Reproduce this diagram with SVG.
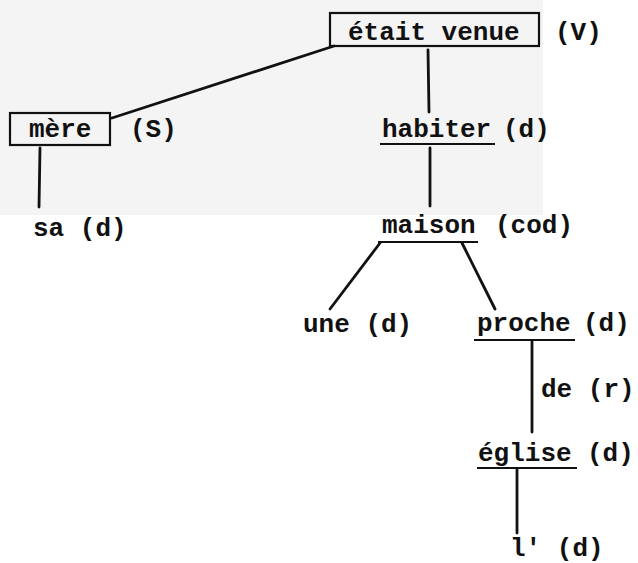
<svg xmlns="http://www.w3.org/2000/svg" width="638" height="563" viewBox="0 0 638 563">
<style>
text{font-family:"Liberation Mono","DejaVu Sans Mono",monospace;font-size:26px;font-weight:bold;fill:#111}
.ln{stroke:#111;stroke-width:2.8;fill:none;stroke-linecap:round}
.bx{stroke:#111;stroke-width:2.2;fill:none}
.ul{stroke:#111;stroke-width:2.2;fill:none}
</style>
<rect x="0" y="0" width="543" height="215" fill="#f4f4f4"/>
<g id="connectors">
<line class="ln" x1="112" y1="118" x2="334" y2="46"/>
<line class="ln" x1="428" y1="50" x2="429" y2="112"/>
<line class="ln" x1="40" y1="148" x2="39" y2="207"/>
<line class="ln" x1="430" y1="148" x2="430" y2="206"/>
<line class="ln" x1="380" y1="243" x2="330" y2="309"/>
<line class="ln" x1="462" y1="243" x2="495" y2="309"/>
<line class="ln" x1="532" y1="341" x2="532" y2="432"/>
<line class="ln" x1="517" y1="470" x2="517" y2="533"/>
</g>
<g id="n-etait-venue">
<rect class="bx" x="330" y="13" width="209" height="33"/>
<text x="348" y="40">était venue</text>
<text x="555" y="40">(V)</text>
</g>
<g id="n-mere">
<rect class="bx" x="10" y="113" width="100" height="32"/>
<text x="29" y="137">mère</text>
<text x="130" y="137">(S)</text>
</g>
<g id="n-sa">
<text x="33" y="236">sa (d)</text>
</g>
<g id="n-habiter">
<text x="382" y="137">habiter</text>
<line class="ul" x1="380" y1="144" x2="495" y2="144"/>
<text x="503" y="137">(d)</text>
</g>
<g id="n-maison">
<text x="382" y="233">maison</text>
<line class="ul" x1="378" y1="242" x2="478" y2="242"/>
<text x="495" y="233">(cod)</text>
</g>
<g id="n-une">
<text x="303" y="332">une (d)</text>
</g>
<g id="n-proche">
<text x="477" y="331">proche</text>
<line class="ul" x1="474" y1="340" x2="575" y2="340"/>
<text x="583" y="331">(d)</text>
</g>
<g id="n-de">
<text x="541" y="397">de (r)</text>
</g>
<g id="n-eglise">
<text x="478" y="461">église</text>
<line class="ul" x1="477" y1="468" x2="577" y2="468"/>
<text x="587" y="461">(d)</text>
</g>
<g id="n-l">
<text x="510" y="556">l' (d)</text>
</g>
</svg>
